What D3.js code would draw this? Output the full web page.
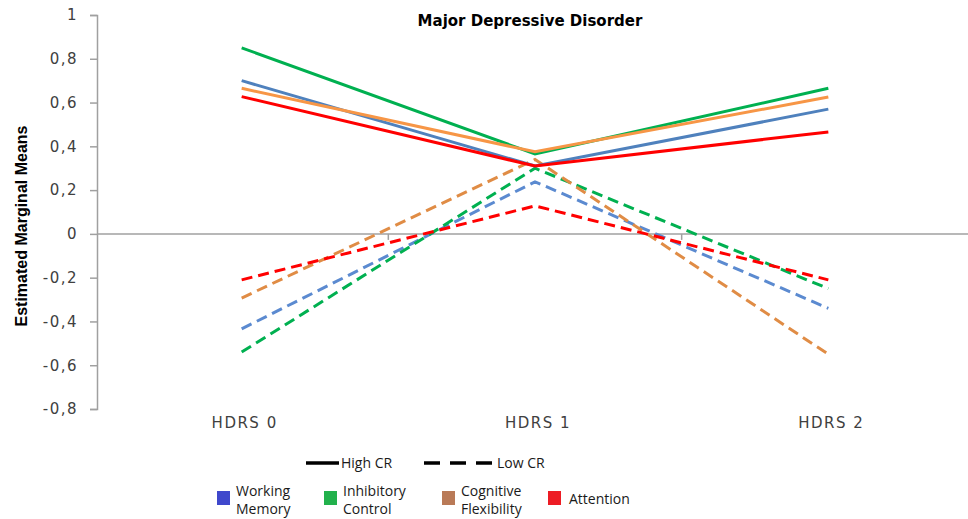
<!DOCTYPE html>
<html>
<head>
<meta charset="utf-8">
<script src="https://cdn.jsdelivr.net/npm/d3@7"></script>
<style>
  body { margin: 0; background: #fff; }
  svg { display: block; }
</style>
</head>
<body>
<script>
var categories = ["HDRS 0", "HDRS 1", "HDRS 2"];
var domains = ["Working Memory", "Inhibitory Control", "Cognitive Flexibility", "Attention"];
var highCR = [
  [0.70, 0.31, 0.57],
  [0.85, 0.365, 0.665],
  [0.665, 0.375, 0.625],
  [0.627, 0.31, 0.466]
];
var lowCR = [
  [-0.434, 0.238, -0.34],
  [-0.54, 0.30, -0.25],
  [-0.293, 0.34, -0.55],
  [-0.21, 0.128, -0.21]
];
var yTicks = [1, 0.8, 0.6, 0.4, 0.2, 0, -0.2, -0.4, -0.6, -0.8];

var solidColors = ["#4f81bd", "#00b050", "#f79646", "#ff0000"];
var dashColors = ["#5b8ad0", "#00b050", "#e08c45", "#ff0000"];
var swatchColors = ["#3f48cc", "#22b14c", "#b97a57", "#ed1c24"];

var width = 968, height = 519;
var svg = d3.select("body").append("svg")
  .attr("width", width)
  .attr("height", height);

var x = d3.scalePoint().domain(categories).range([95, 975]).padding(0.5);
var xb = d3.scaleBand().domain(categories).range([95, 975]);
var y = d3.scaleLinear().domain([-0.8, 1]).range([409, 15]);

var tickFont = "'DejaVu Sans', Verdana, sans-serif";

// y axis
var yAxis = svg.append("g")
  .attr("transform", "translate(97,0)")
  .call(d3.axisLeft(y).tickValues(yTicks).tickSize(7).tickPadding(12)
    .tickFormat(function (d) { return d === 0 || d === 1 ? String(d) : d3.format(".1f")(d).replace(".", ",").replace("−", "-"); }));
yAxis.select(".domain").attr("stroke", "#a0a0a0").attr("stroke-width", 1.5);
yAxis.selectAll(".tick line").attr("stroke", "#a0a0a0").attr("stroke-width", 1.5);
yAxis.selectAll(".tick text")
  .attr("fill", "#404040")
  .style("font-family", tickFont)
  .style("font-size", "15px")
  .style("letter-spacing", "1.5px");

// zero line with category separator ticks
svg.append("line")
  .attr("x1", 97).attr("x2", width)
  .attr("y1", y(0)).attr("y2", y(0))
  .attr("stroke", "#a0a0a0").attr("stroke-width", 1.5);
svg.selectAll(".sep")
  .data(categories.slice(1))
  .enter().append("line")
  .attr("x1", function (d) { return xb(d); })
  .attr("x2", function (d) { return xb(d); })
  .attr("y1", y(0)).attr("y2", y(0) + 6)
  .attr("stroke", "#a0a0a0").attr("stroke-width", 1.5);

// category labels
svg.selectAll(".cat")
  .data(categories)
  .enter().append("text")
  .attr("x", function (d) { return x(d) + 3; })
  .attr("y", 428)
  .attr("text-anchor", "middle")
  .attr("fill", "#404040")
  .style("font-family", tickFont)
  .style("font-size", "15px")
  .style("letter-spacing", "1.5px")
  .text(function (d) { return d; });

// title
svg.append("text")
  .attr("x", 530).attr("y", 26)
  .attr("text-anchor", "middle")
  .style("font-family", tickFont)
  .style("font-weight", "bold")
  .style("font-size", "15px")
  .text("Major Depressive Disorder");

// y label
svg.append("text")
  .attr("transform", "translate(27,226) rotate(-90)")
  .attr("text-anchor", "middle")
  .style("font-family", "'Liberation Sans Narrow', 'Liberation Sans', sans-serif")
  .style("font-stretch", "condensed")
  .style("font-weight", "bold")
  .style("font-size", "16px")
  .text("Estimated Marginal Means");

var line = d3.line()
  .x(function (d, i) { return x(categories[i]); })
  .y(function (d) { return y(d); });

svg.selectAll(".low")
  .data(lowCR)
  .enter().append("path")
  .attr("d", line)
  .attr("fill", "none")
  .attr("stroke", function (d, i) { return dashColors[i]; })
  .attr("stroke-width", 3)
  .attr("stroke-dasharray", "11,6");

svg.selectAll(".high")
  .data(highCR)
  .enter().append("path")
  .attr("d", line)
  .attr("fill", "none")
  .attr("stroke", function (d, i) { return solidColors[i]; })
  .attr("stroke-width", 3);

// legend: line styles
var legFont = "'Open Sans', 'Liberation Sans', sans-serif";
svg.append("line")
  .attr("x1", 306).attr("x2", 339).attr("y1", 463).attr("y2", 463)
  .attr("stroke", "#000").attr("stroke-width", 3.5);
svg.append("text").attr("x", 341).attr("y", 468)
  .style("font-family", legFont).style("font-size", "14px").attr("fill", "#1a1a1a")
  .text("High CR");
svg.append("line")
  .attr("x1", 424).attr("x2", 495).attr("y1", 463).attr("y2", 463)
  .attr("stroke", "#000").attr("stroke-width", 3.5)
  .attr("stroke-dasharray", "16,10");
svg.append("text").attr("x", 497).attr("y", 468)
  .style("font-family", legFont).style("font-size", "14px").attr("fill", "#1a1a1a")
  .text("Low CR");

// legend: domains
var legX = [217, 324, 442, 548];
var legItems = svg.selectAll(".leg")
  .data(domains)
  .enter().append("g")
  .attr("transform", function (d, i) { return "translate(" + legX[i] + ",0)"; });
legItems.append("rect")
  .attr("x", 0).attr("y", 491)
  .attr("width", 13).attr("height", 14)
  .attr("fill", function (d, i) { return swatchColors[i]; });
legItems.each(function (d) {
  var g = d3.select(this);
  var words = d.split(" ");
  var off = d === "Attention" ? 21 : 19;
  words.forEach(function (w, j) {
    g.append("text")
      .attr("x", off)
      .attr("y", words.length === 1 ? 504 : 496 + j * 18)
      .style("font-family", legFont)
      .style("font-size", "14px")
      .attr("fill", "#1a1a1a")
      .text(w);
  });
});
</script>
</body>
</html>
